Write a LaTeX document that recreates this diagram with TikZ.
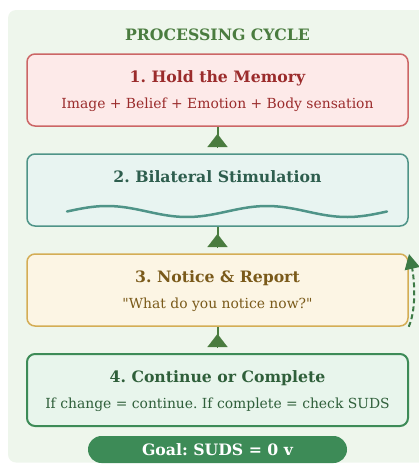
\documentclass[tikz,border=0pt]{standalone}
\usepackage{fontspec}
\setmainfont{DejaVu Serif}
\usetikzlibrary{arrows.meta}
\frenchspacing

\definecolor{panelbg}{HTML}{EEF6EC}
\definecolor{leaf}{HTML}{4A7C3F}
\definecolor{holdfill}{HTML}{FDEAE9}
\definecolor{holdline}{HTML}{CC6666}
\definecolor{holdtext}{HTML}{9B2C2C}
\definecolor{blsfill}{HTML}{E8F4F1}
\definecolor{blsline}{HTML}{4F9488}
\definecolor{blstext}{HTML}{2E5E4E}
\definecolor{notefill}{HTML}{FCF5E4}
\definecolor{noteline}{HTML}{D4AD55}
\definecolor{notetext}{HTML}{7A5A1A}
\definecolor{donefill}{HTML}{E8F5EC}
\definecolor{doneline}{HTML}{3D8B57}
\definecolor{donetext}{HTML}{2F5F3A}
\definecolor{loopgreen}{HTML}{3D7A45}

\begin{document}
\begin{tikzpicture}[x=1pt, y=-1pt,
 box/.style={draw, rounded corners=8pt, line width=1.5pt, minimum width=381pt, minimum height=72pt, inner sep=0pt},
 head/.style={font=\fontsize{15.7}{18}\selectfont\bfseries, anchor=base},
 sub/.style={font=\fontsize{13.9}{16}\selectfont, anchor=base},
 stem/.style={draw=leaf, line width=2pt},
 tip/.style={draw=leaf, line width=0.1pt, -{Triangle[width=20pt,length=13pt]}},
 wave/.style={draw=blsline, line width=2.5pt, line cap=round},
 loopback/.style={draw=loopgreen, line width=2pt, dash pattern=on 5pt off 3pt, -{Triangle[width=15pt,length=15pt]}},
 goal/.style={fill=doneline, text=white, rounded corners=13.5pt, minimum width=259pt, minimum height=27pt, inner sep=0pt, font=\fontsize{15.7}{18}\selectfont\bfseries}]
 \useasboundingbox (0, 0) rectangle (419, 464);
 \fill[panelbg, rounded corners=8pt] (8, 10) rectangle (440, 462.5);

 \draw (217.5, 40) node[head, text=leaf] (cycle) {PROCESSING CYCLE};

 % the four steps
 \draw (217.5, 90) node[box, fill=holdfill, draw=holdline] (hold) {};
 \draw (217.5, 190) node[box, fill=blsfill, draw=blsline] (bls) {};
 \draw (217.5, 290) node[box, fill=notefill, draw=noteline] (notice) {};
 \draw (217.5, 390) node[box, fill=donefill, draw=doneline, line width=2pt] (done) {};

 \draw (217.5, 82) node[head, text=holdtext] (holdhead) {1. Hold the Memory};
 \draw (217.5, 108.3) node[sub, text=holdtext] (holdsub) {Image + Belief + Emotion + Body sensation};
 \draw (217.5, 182.3) node[head, text=blstext] (blshead) {2. Bilateral Stimulation};
 \draw (217.5, 282.3) node[head, text=notetext] (noticehead) {3. Notice \& Report};
 \draw (217.5, 308.3) node[sub, text=notetext] (noticesub) {\textquotedbl What do you notice now?\textquotedbl};
 \draw (217.5, 382.3) node[head, text=donetext] (donehead) {4. Continue or Complete};
 \draw (217.5, 408.3) node[sub, text=donetext] (donesub) {If change = continue. If complete = check SUDS};

 % eye movement wave
 \draw[wave] plot[domain=67:387, samples=90, smooth] (\x, {211.5 - 5.5*sin(2.25*(\x-67))});

 % upward links
 \coordinate (a1) at (217.5, 147);
 \coordinate (t1) at (217.5, 134);
 \coordinate (a2) at (217.5, 247);
 \coordinate (t2) at (217.5, 234);
 \coordinate (a3) at (217.5, 347);
 \coordinate (t3) at (217.5, 334);
 \draw[stem] (a1) -- (hold.south);
 \draw[stem] (a2) -- (bls.south);
 \draw[stem] (a3) -- (notice.south);
 \draw[tip] (a1) -- (t1);
 \draw[tip] (a2) -- (t2);
 \draw[tip] (a3) -- (t3);

 % repeat loop
 \coordinate (looptop) at (409, 254);
 \draw[loopback] (notice.south east) .. controls (418, 305) and (413, 272) .. (looptop);

 \draw (217.5, 449.5) node[goal] (target) {Goal: SUDS = 0 v};
\end{tikzpicture}
\end{document}
